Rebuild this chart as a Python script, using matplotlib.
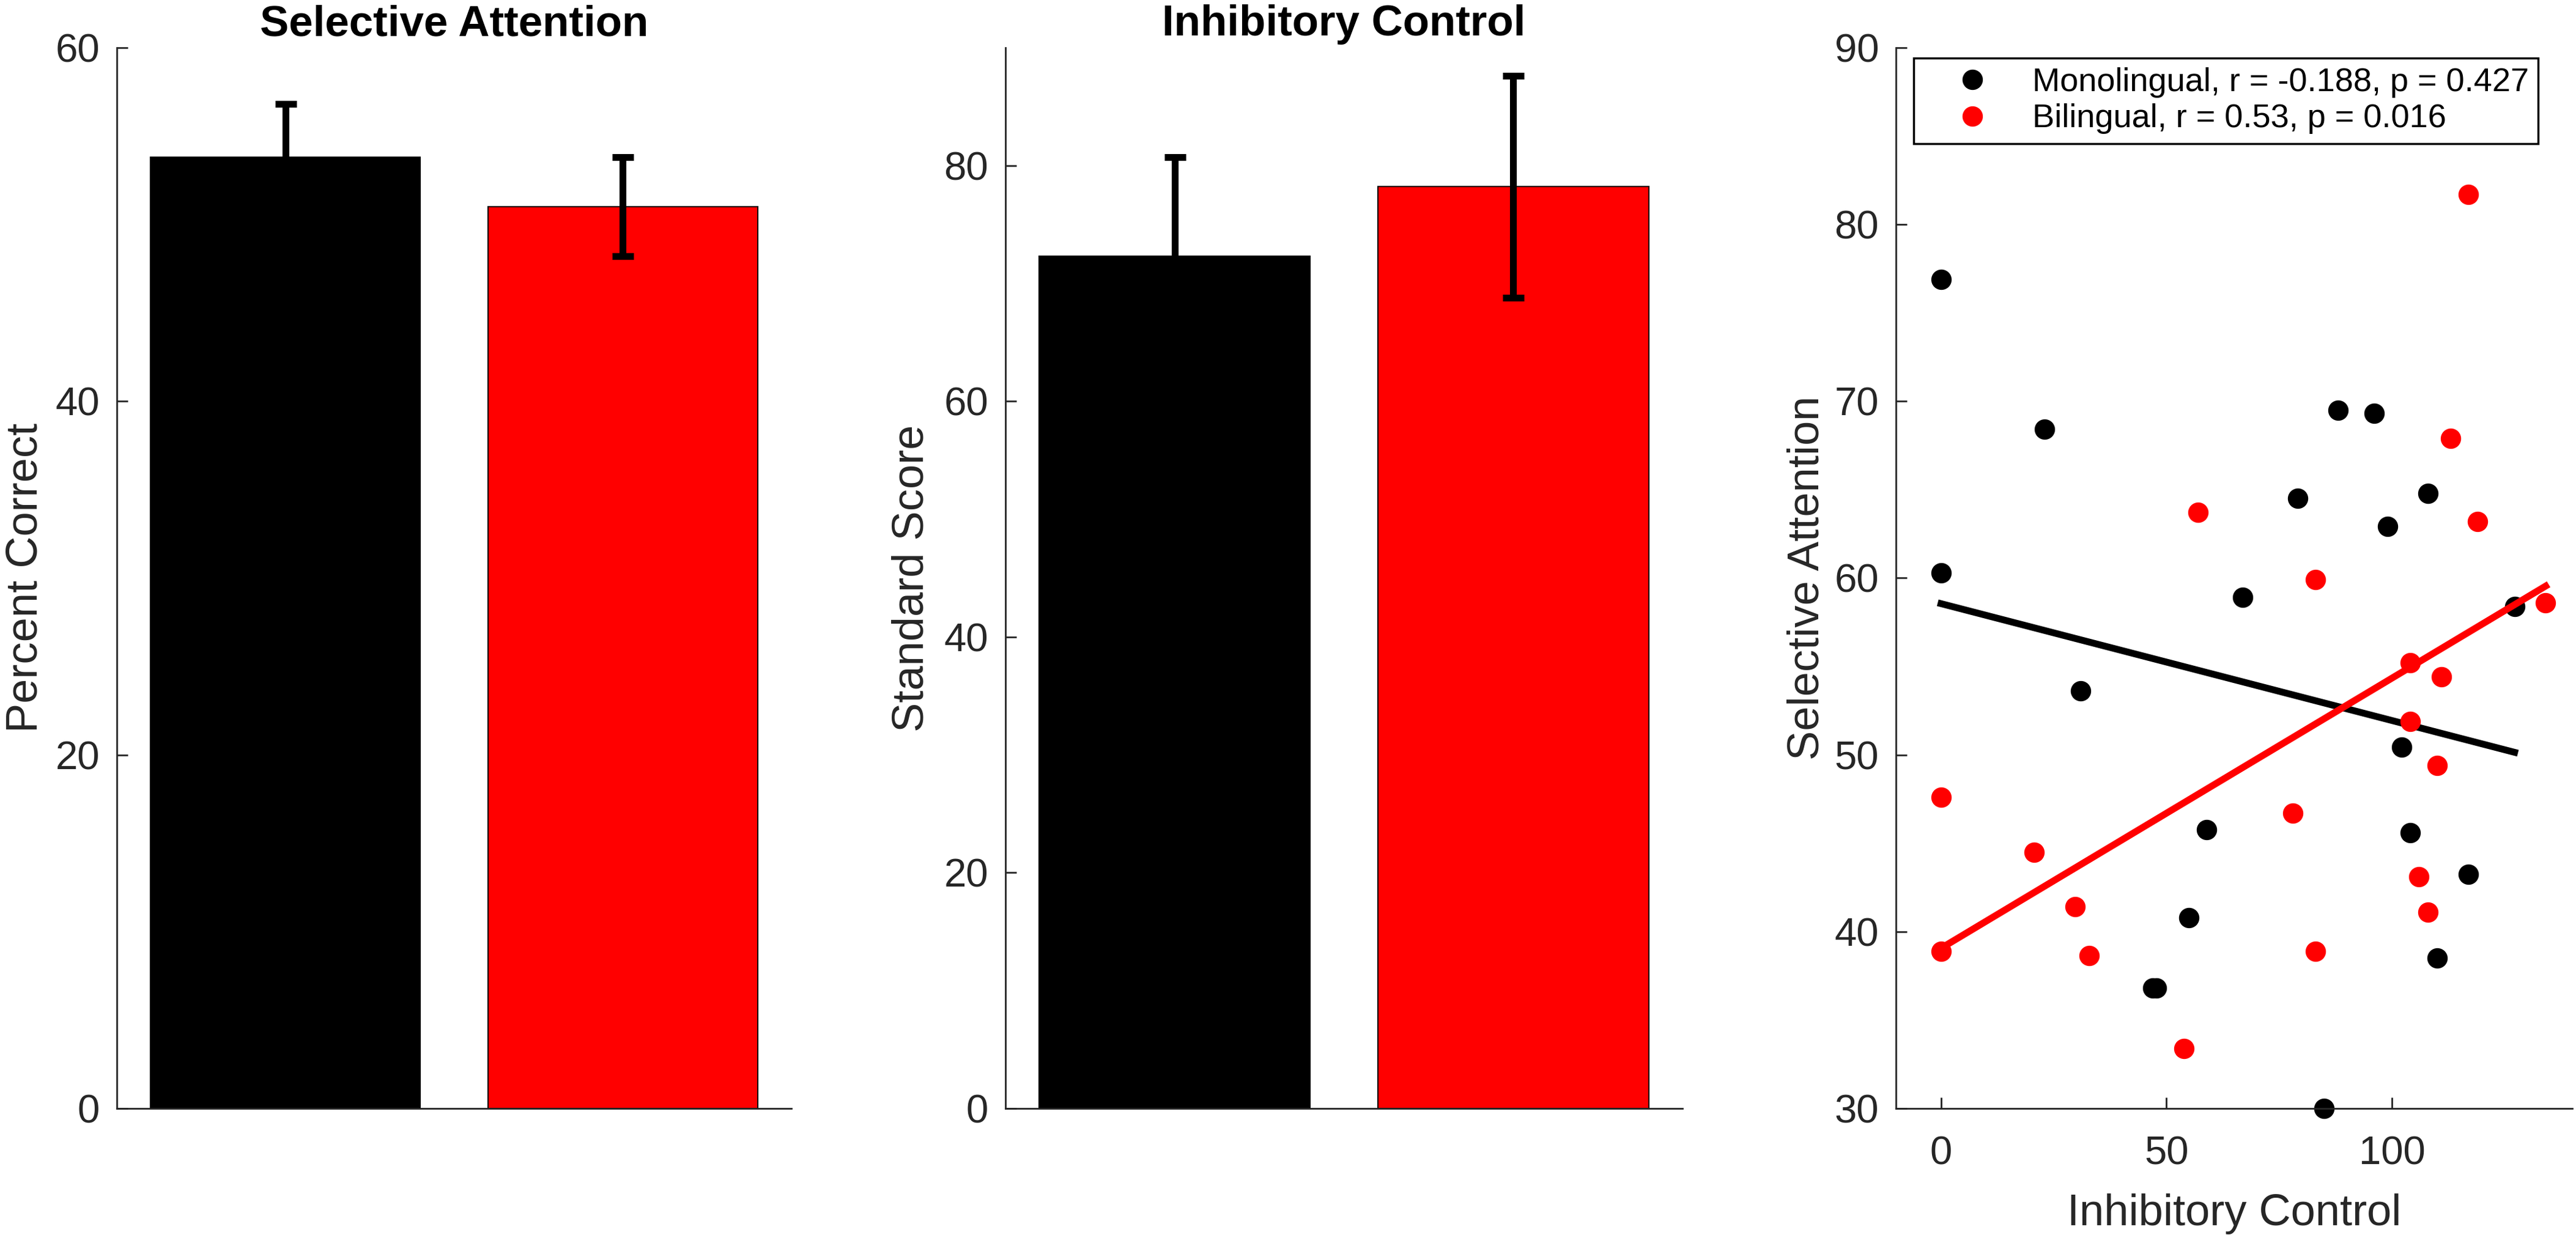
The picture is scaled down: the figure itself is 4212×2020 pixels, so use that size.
import matplotlib
matplotlib.use("Agg")
import matplotlib.pyplot as plt
import numpy as np

plt.rcParams["font.family"] = ["Liberation Sans", "DejaVu Sans"]

# bar panels: group means and standard errors
groups = ["Monolingual", "Bilingual"]
bar_colors = ["black", "red"]
attention_mean = [53.8, 51.0]
attention_err = [3.0, 2.8]
inhibition_mean = [72.3, 78.2]
inhibition_err = [8.4, 9.4]

# scatter panel: inhibitory control (x) vs selective attention (y)
mono_x = [0, 22.9, 88.1, 96.1, 79.1, 108.0, 99.1, 0, 66.9, 127.2,
          30.9, 102.1, 58.9, 104.0, 117.0, 54.9, 110.0, 47.0, 47.8, 85.0]
mono_y = [76.9, 68.4, 69.5, 69.3, 64.5, 64.8, 62.9, 60.3, 58.9, 58.4,
          53.6, 50.45, 45.75, 45.6, 43.25, 40.8, 38.5, 36.8, 36.8, 30.0]
bi_x = [117.0, 113.0, 57.0, 119.0, 83.0, 134.1, 104.0, 111.0, 104.0, 110.0,
        0, 78.0, 20.7, 106.0, 29.8, 108.0, 0, 32.9, 83.0, 53.9]
bi_y = [81.7, 67.9, 63.7, 63.2, 59.9, 58.6, 55.2, 54.4, 51.9, 49.4,
        47.6, 46.7, 44.5, 43.1, 41.4, 41.1, 38.9, 38.65, 38.9, 33.4]
mono_label = "Monolingual, r = -0.188, p = 0.427"
bi_label = "Bilingual, r = 0.53, p = 0.016"

AX_COLOR = "#262626"
TICK_FS = 47
LABEL_FS = 52
TITLE_FS = 51


def style_axes(ax):
    for side in ("top", "right"):
        ax.spines[side].set_visible(False)
    for side in ("left", "bottom"):
        ax.spines[side].set_color(AX_COLOR)
        ax.spines[side].set_linewidth(2.0)
    ax.tick_params(direction="in", length=13, width=2.0, color=AX_COLOR,
                   labelcolor=AX_COLOR, labelsize=TICK_FS, pad=20)


def bar_panel(ax, means, errs, title, ylabel, ymax, yticks, label_x):
    pos = np.arange(1, len(means) + 1)
    ax.bar(pos, means, width=0.8, color=bar_colors, edgecolor="black",
           linewidth=1.4, zorder=2)
    ax.errorbar(pos, means, yerr=errs, fmt="none", ecolor="black",
                elinewidth=8, capsize=12.6, capthick=8, zorder=3)
    style_axes(ax)
    ax.set_xlim(0.5, 2.5)
    ax.set_ylim(0, ymax)
    ax.set_xticks([])
    ax.set_yticks(yticks)
    ax.set_title(title, fontsize=TITLE_FS, fontweight="bold", pad=14)
    ax.set_ylabel(ylabel, fontsize=LABEL_FS, color=AX_COLOR)
    ax.yaxis.set_label_coords(label_x, 0.5)


fig = plt.figure(figsize=(42.12, 20.2), dpi=100)
bottom, height = 0.1025, 0.859
ax1 = fig.add_axes([0.04535, bottom, 0.26187, height])
ax2 = fig.add_axes([0.39031, bottom, 0.26282, height])
ax3 = fig.add_axes([0.73599, bottom, 0.26258, height])

bar_panel(ax1, attention_mean, attention_err, "Selective Attention",
          "Percent Correct", 60, [0, 20, 40, 60], -0.105)
bar_panel(ax2, inhibition_mean, inhibition_err, "Inhibitory Control",
          "Standard Score", 90, [0, 20, 40, 60, 80], -0.1075)

# scatter with least-squares lines
mx, my = np.array(mono_x), np.array(mono_y)
bx, by = np.array(bi_x), np.array(bi_y)
ax3.plot(mx, my, "o", color="black", markersize=23, label=mono_label,
         clip_on=False, zorder=2)
k, b = np.polyfit(mx, my, 1)
xs = np.array([mx.min(), mx.max()])
ax3.plot(xs, k * xs + b, color="black", linewidth=8, zorder=3)
ax3.plot(bx, by, "o", color="red", markersize=23, label=bi_label,
         clip_on=False, zorder=4)
k, b = np.polyfit(bx, by, 1)
xs = np.array([bx.min(), bx.max()])
ax3.plot(xs, k * xs + b, color="red", linewidth=8, zorder=5)

style_axes(ax3)
ax3.tick_params(axis="x", pad=32)
ax3.set_xlim(-10, 140)
ax3.set_ylim(30, 90)
ax3.set_xticks([0, 50, 100])
ax3.set_yticks(np.arange(30, 91, 10))
ax3.set_xlabel("Inhibitory Control", fontsize=LABEL_FS, color=AX_COLOR)
ax3.xaxis.set_label_coords(0.5, -0.08)
ax3.set_ylabel("Selective Attention", fontsize=LABEL_FS, color=AX_COLOR)
ax3.yaxis.set_label_coords(-0.101, 0.5)

leg = ax3.legend(loc="upper left", bbox_to_anchor=(0.026, 0.990),
                 borderaxespad=0, fontsize=39, handlelength=3.0,
                 handletextpad=0.3, borderpad=0.28, labelspacing=0.17,
                 fancybox=False, framealpha=1, edgecolor="black")
leg.get_frame().set_linewidth(2.5)
leg.set_zorder(10)

fig.savefig("out.png", dpi=100, facecolor="white")
